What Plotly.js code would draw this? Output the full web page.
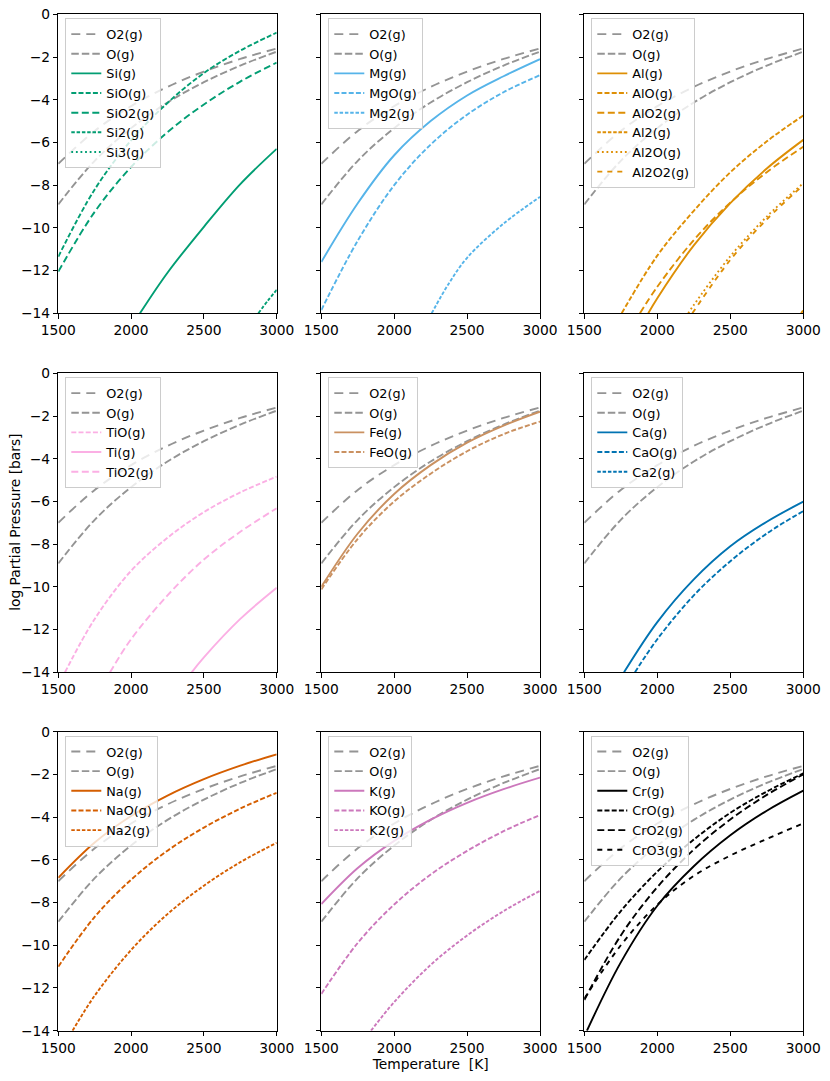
<!DOCTYPE html>
<html>
<head>
<meta charset="utf-8">
<script src="https://cdn.plot.ly/plotly-3.0.1.min.js"></script>
<style>html,body{margin:0;padding:0;background:#fff;}#chart{width:830px;height:1081px;}</style>
</head>
<body>
<div id="chart"></div>
<script>
// ---- data (temperatures in K, log partial pressures in bars) ----
const T = [1500, 1750, 2000, 2250, 2500, 2750, 3000];
const O2 = [-7.0, -5.46, -4.3, -3.4, -2.68, -2.09, -1.6];
const O  = [-8.9, -6.86, -5.33, -4.13, -3.18, -2.4, -1.75];

const Si_T = [2061, 2250, 2500, 2750, 3000];
const Si   = [-14, -12.1, -9.95, -7.95, -6.3];
const SiO  = [-11.35, -8.2, -5.9, -4.15, -2.75, -1.7, -0.86];
const SiO2 = [-12.05, -9.25, -7.15, -5.52, -4.22, -3.15, -2.26];
const Si2_T = [2874, 2940, 3000];
const Si2   = [-14, -13.4, -12.9];
const Si3_T = [1500, 3000];
const Si3   = [null, null];

const Mg   = [-11.6, -8.85, -6.6, -5.0, -3.8, -2.9, -2.1];
const MgO  = [-13.85, -10.6, -8.0, -6.1, -4.7, -3.65, -2.85];
const Mg2_T = [2257, 2375, 2500, 2750, 3000];
const Mg2   = [-14, -12.6, -11.4, -9.8, -8.55];

const Al_T = [1938, 2000, 2250, 2500, 2750, 3000];
const Al   = [-14, -13.29, -10.82, -8.84, -7.22, -5.88];
const AlO_T = [1756, 2000, 2250, 2500, 2750, 3000];
const AlO   = [-14, -11.3, -9.2, -7.4, -5.95, -4.74];
const AlO2_T = [1881, 2000, 2250, 2500, 2750, 3000];
const AlO2   = [-14, -12.76, -10.57, -8.82, -7.39, -6.2];
const Al2_T = [2985, 3000];
const Al2   = [-14, -13.85];
const Al2O_T = [2212, 2250, 2500, 2750, 3000];
const Al2O   = [-14, -13.61, -11.33, -9.47, -7.91];
const Al2O2_T = [2240, 2500, 2750, 3000];
const Al2O2   = [-14, -11.5, -9.6, -8.0];

const TiO_T = [1546, 1750, 2000, 2250, 2500, 2750, 3000];
const TiO   = [-14, -11.5, -9.25, -7.7, -6.5, -5.58, -4.84];
const Ti_T = [2416, 2500, 2750, 3000];
const Ti   = [-14, -13.3, -11.5, -10.04];
const TiO2_T = [1855, 2000, 2250, 2500, 2750, 3000];
const TiO2   = [-14, -12.45, -10.4, -8.72, -7.42, -6.32];

const Fe  = [-10.0, -7.5, -5.65, -4.3, -3.25, -2.45, -1.8];
const FeO = [-10.12, -7.75, -6.0, -4.7, -3.65, -2.85, -2.26];

const Ca_T = [1772, 2000, 2250, 2500, 2750, 3000];
const Ca   = [-14, -11.65, -9.65, -8.1, -6.95, -6.01];
const CaO_T = [1847, 2000, 2250, 2500, 2750, 3000];
const CaO   = [-14, -12.45, -10.4, -8.8, -7.5, -6.45];
const Ca2_T = [1500, 3000];
const Ca2   = [null, null];

const Na  = [-6.84, -5.19, -3.95, -2.99, -2.22, -1.59, -1.06];
const NaO = [-11.0, -8.67, -6.93, -5.57, -4.49, -3.6, -2.86];
const Na2_T = [1598, 1750, 2000, 2250, 2500, 2750, 3000];
const Na2   = [-14, -12.36, -10.22, -8.54, -7.21, -6.11, -5.2];

const K  = [-8.07, -6.38, -5.11, -4.12, -3.33, -2.69, -2.15];
const KO = [-12.28, -9.89, -8.09, -6.69, -5.58, -4.66, -3.9];
const K2_T = [1841, 2000, 2250, 2500, 2750, 3000];
const K2   = [-14, -12.66, -10.92, -9.54, -8.4, -7.45];

const Cr_T = [1518, 1750, 2000, 2250, 2500, 2750, 3000];
const Cr   = [-14, -10.8, -8.15, -6.3, -4.85, -3.7, -2.76];
const CrO  = [-10.69, -8.4, -6.55, -5.05, -3.8, -2.8, -1.95];
const CrO2 = [-12.56, -9.54, -7.28, -5.52, -4.11, -2.96, -2.0];
const CrO3 = [-12.5, -10.0, -8.1, -6.75, -5.8, -5.02, -4.29];

const xTicks = [1500, 2000, 2500, 3000];
const yTicks = [-14, -12, -10, -8, -6, -4, -2, 0];

// ---- styles ----
const GRAY = '#949494';
const D = {
  solid: 'solid',
  o2: '9px,6px',
  o: '7.5px,3px',
  d1: '5px,2.2px',
  d2: '7px,3.5px',
  d3: '3.5px,1.8px',
  dot: '1.8px,2.8px',
  wide: '5px,5px'
};

const panels = [
  {color:'#029e73', legw:98, series:[['Si(g)',Si_T,Si,'solid'],['SiO(g)',T,SiO,'d1'],['SiO2(g)',T,SiO2,'d2'],['Si2(g)',Si2_T,Si2,'d3'],['Si3(g)',Si3_T,Si3,'dot']]},
  {color:'#56b4e9', legw:97, series:[['Mg(g)',T,Mg,'solid'],['MgO(g)',T,MgO,'d1'],['Mg2(g)',Mg2_T,Mg2,'d3']]},
  {color:'#de8f05', legw:106, series:[['Al(g)',Al_T,Al,'solid'],['AlO(g)',AlO_T,AlO,'d1'],['AlO2(g)',AlO2_T,AlO2,'d2'],['Al2(g)',Al2_T,Al2,'d3'],['Al2O(g)',Al2O_T,Al2O,'dot'],['Al2O2(g)',Al2O2_T,Al2O2,'wide']]},
  {color:'#fbafe4', legw:97, series:[['TiO(g)',TiO_T,TiO,'d1'],['Ti(g)',Ti_T,Ti,'solid'],['TiO2(g)',TiO2_T,TiO2,'d2']]},
  {color:'#ca9161', legw:93, series:[['Fe(g)',T,Fe,'solid'],['FeO(g)',T,FeO,'d1']]},
  {color:'#0173b2', legw:95, series:[['Ca(g)',Ca_T,Ca,'solid'],['CaO(g)',CaO_T,CaO,'d1'],['Ca2(g)',Ca2_T,Ca2,'d3']]},
  {color:'#d55e00', legw:95, series:[['Na(g)',T,Na,'solid'],['NaO(g)',T,NaO,'d1'],['Na2(g)',Na2_T,Na2,'d3']]},
  {color:'#cc78bc', legw:86, series:[['K(g)',T,K,'solid'],['KO(g)',T,KO,'d1'],['K2(g)',K2_T,K2,'d3']]},
  {color:'#000000', legw:100, series:[['Cr(g)',Cr_T,Cr,'solid'],['CrO(g)',T,CrO,'d1'],['CrO2(g)',T,CrO2,'d2'],['CrO3(g)',T,CrO3,'wide']]}
];

const W = 830, H = 1081;
const colsX = [[58.3/W, 276.7/W], [321.3/W, 540/W], [584.3/W, 803.3/W]];
const rowsY = [[1-313.3/H, 1-14.3/H], [1-672.3/H, 1-373.3/H], [1-1030.7/H, 1-731.7/H]];
const FONT = {family:'DejaVu Sans, sans-serif', size:13.8, color:'#000'};
const LFONT = {family:'DejaVu Sans, sans-serif', size:12.8, color:'#000'};
const LW = 1.9;

const traces = [];
const layout = {
  width: W, height: H,
  margin: {l:0, r:0, t:0, b:0},
  paper_bgcolor: '#fff', plot_bgcolor: '#fff',
  font: FONT,
  showlegend: true,
  annotations: [{
    text: 'log Partial Pressure [bars]', textangle: -90,
    xref: 'paper', yref: 'paper', x: 15/W, y: (rowsY[1][0] + rowsY[1][1]) / 2,
    xanchor: 'center', yanchor: 'middle', showarrow: false, font: FONT
  }]
};

panels.forEach((p, i) => {
  const n = i + 1;
  const r = Math.floor(i / 3), c = i % 3;
  const xa = 'x' + (n === 1 ? '' : n), ya = 'y' + (n === 1 ? '' : n);
  const leg = 'legend' + (n === 1 ? '' : n);
  const add = (name, x, y, color, dash) => traces.push({
    type:'scatter', mode:'lines', name:name, x:x, y:y,
    xaxis:xa, yaxis:ya, legend:leg, connectgaps:false,
    line:{color:color, width:LW, dash:D[dash], shape:'spline', smoothing:1},
    hoverinfo:'skip'
  });
  add('O2(g)', T, O2, GRAY, 'o2');
  add('O(g)', T, O, GRAY, 'o');
  p.series.forEach(s => add(s[0], s[1], s[2], p.color, s[3]));

  const axCommon = {showline:true, mirror:true, linecolor:'#000', linewidth:1,
    ticks:'outside', ticklen:4.5, tickwidth:1, tickcolor:'#000',
    showgrid:false, zeroline:false, tickfont:FONT, fixedrange:true};
  layout['xaxis' + (n === 1 ? '' : n)] = Object.assign({}, axCommon, {
    domain: colsX[c], anchor: ya, range:[1500, 3000], tickmode:'array', tickvals:xTicks,
    ticktext: xTicks.map(String),
    title: (n === 8) ? {text:'Temperature\u00a0 [K]', font:FONT, standoff:4} : {text:''}
  });
  layout['yaxis' + (n === 1 ? '' : n)] = Object.assign({}, axCommon, {
    domain: rowsY[r], anchor: xa, range:[-14, 0], tickmode:'array', tickvals:yTicks,
    showticklabels: c === 0,
    title: {text:''}
  });
  layout[leg] = {
    x: colsX[c][0] + 7/W, y: rowsY[r][1] - 4/H, xanchor:'left', yanchor:'top',
    bgcolor:'rgba(255,255,255,0.8)', bordercolor:'#cccccc', borderwidth:1,
    font: LFONT, itemwidth:30, tracegroupgap:0,
    entrywidth: p.legw - 48, entrywidthmode:'pixels'
  };
});

Plotly.newPlot('chart', traces, layout, {staticPlot:true, displayModeBar:false});
</script>
</body>
</html>
